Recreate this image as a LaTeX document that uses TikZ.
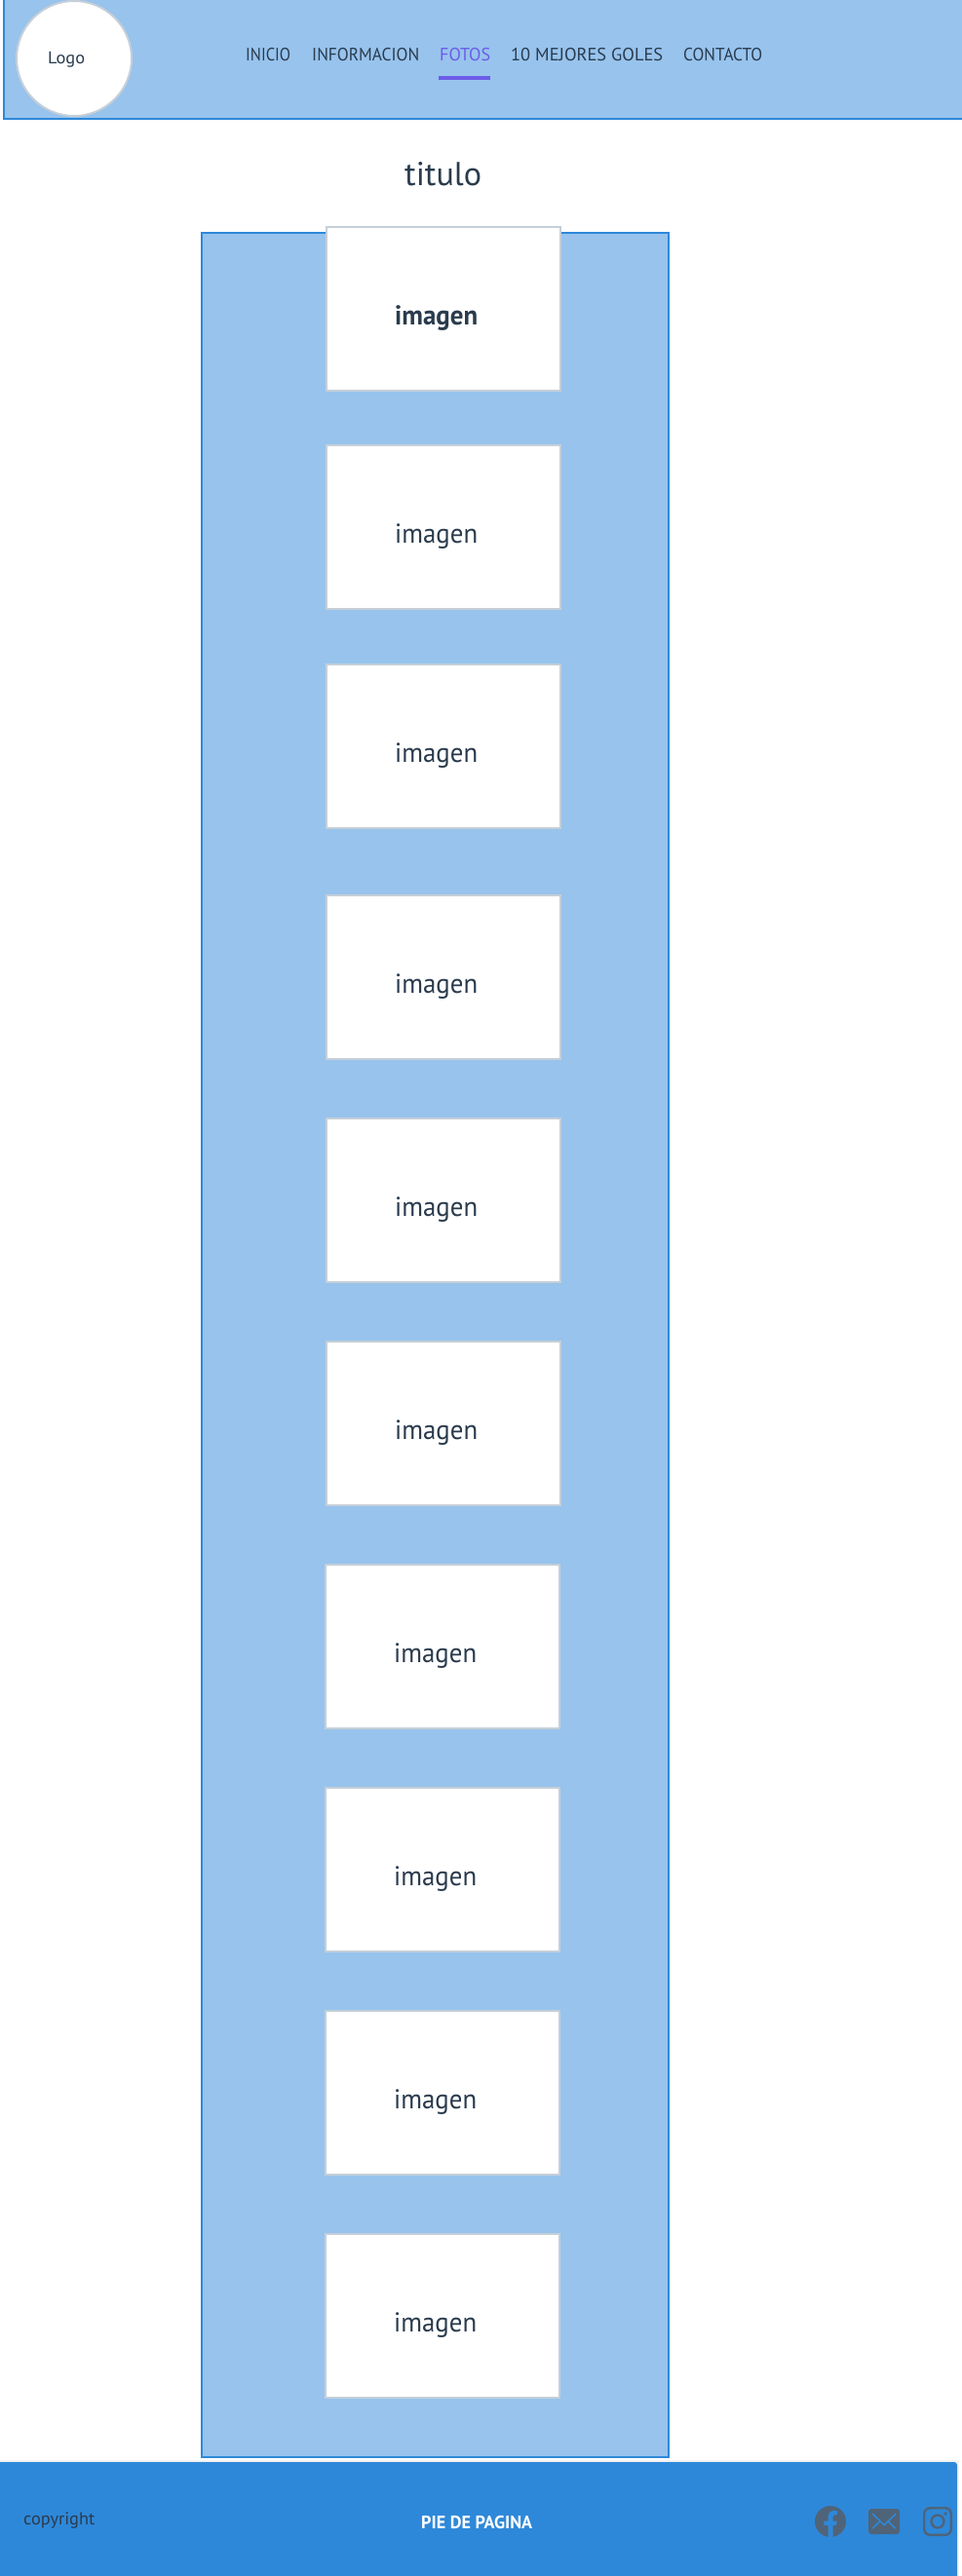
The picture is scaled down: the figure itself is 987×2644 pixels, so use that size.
\documentclass[tikz,border=0pt]{standalone}
\usepackage{fontspec}
\usepackage{graphicx}
\setmainfont{PT Sans}
\definecolor{panel}{HTML}{97C3ED}
\definecolor{edge}{HTML}{2E88D9}
\definecolor{ink}{HTML}{2A3B4D}
\definecolor{imgedge}{HTML}{C5CFD8}
\definecolor{accent}{HTML}{6C5CE7}
\definecolor{icon}{HTML}{4F6478}
\newcommand{\fitw}[3]{\resizebox{#1pt}{\height}{\fontsize{#2pt}{#2pt}\selectfont #3}}
\tikzset{
  panelbox/.style={draw=edge,fill=panel,line width=2pt,rectangle,inner sep=0pt,anchor=north west},
  imagebox/.style={draw=imgedge,fill=white,line width=2pt,rectangle,minimum width=240pt,minimum height=168pt,inner sep=0pt,anchor=north west},
  lbl/.style={inner sep=0pt,anchor=base west,text=ink}
}
\begin{document}
\begin{tikzpicture}[x=1pt,y=-1pt]
\useasboundingbox (0,0) rectangle (987,2644);
\fill[white] (0,0) rectangle (987,2644);
% header
\node[panelbox,minimum width=990pt,minimum height=130pt] (header) at (3,-9) {};
\node[circle,draw=imgedge,fill=white,line width=2pt,minimum size=118pt,inner sep=0pt] (logo) at (76,60) {};
\node[lbl] (logotext) at (49,65.5) {\fitw{38}{17.5}{Logo}};
\node[lbl] (nav1) at (252,63) {\fitw{46}{18.5}{INICIO}};
\node[lbl] (nav2) at (320,63) {\fitw{110}{18.5}{INFORMACION}};
\node[lbl,text=accent] (nav3) at (451,63) {\fitw{52}{18.5}{FOTOS}};
\node[lbl] (nav4) at (524,63) {\fitw{156}{18.5}{10 MEJORES GOLES}};
\node[lbl] (nav5) at (701,63) {\fitw{81}{18.5}{CONTACTO}};
\fill[accent] (450,78) rectangle (503,82);
% title
\node[lbl] (titulo) at (415,190) {\fitw{79}{34}{titulo}};
% main panel
\node[panelbox,minimum width=478.5pt,minimum height=2283pt] (main) at (206,238) {};
% images
\foreach \i/\px/\py/\w in {1/334/232/bf,2/334/456/md,3/334/681/md,4/334/918/md,5/334/1147/md,6/334/1376/md,7/333/1605/md,8/333/1834/md,9/333/2063/md,10/333/2292/md}{
  \node[imagebox] (img\i) at (\px,\py) {};
  \pgfmathsetmacro{\tx}{\px+71}
  \pgfmathsetmacro{\ty}{\py+101}
  \node[lbl,font=\csname\w series\endcsname] (imgtext\i) at (\tx,\ty) {\fitw{85}{28}{imagen}};
}
% footer
\fill[black!5] (0,2525) rectangle (984,2644);
\draw[fill=edge,draw=none,rounded corners=3pt] (-5,2527) rectangle (982,2660);
\node[lbl] (copy) at (24,2591) {\fitw{73}{18}{copyright}};
\node[lbl,text=white,font=\bfseries] (pie) at (432,2595) {\fitw{114}{18.5}{PIE DE PAGINA}};
% facebook
\node[circle,fill=icon,minimum size=32pt,inner sep=0pt] (fb) at (852,2588) {};
\fill[edge] (849.6,2604) -- (849.6,2592) -- (845.3,2592) -- (845.3,2587.5) -- (849.6,2587.5) -- (849.6,2583.5)
  .. controls (849.6,2579) and (852,2577) .. (856,2577) -- (858.8,2577.3) -- (858.8,2581.2) -- (856.8,2581.2)
  .. controls (855,2581.2) and (854.5,2582) .. (854.5,2583.6) -- (854.5,2587.5) -- (858.8,2587.5) -- (858,2592) -- (854.5,2592) -- (854.5,2604) -- cycle;
% mail
\node[rectangle,rounded corners=3pt,fill=icon,minimum width=32pt,minimum height=26pt,inner sep=0pt] (mail) at (907,2588) {};
\draw[edge,line width=1.5pt,line cap=round,line join=round] (895.2,2580) -- (907.2,2591.7) -- (919.2,2580);
\draw[edge,line width=1.5pt,line cap=round] (895.3,2595) -- (902.6,2588);
\draw[edge,line width=1.5pt,line cap=round] (918.5,2595) -- (911.2,2588);
% instagram
\node[rectangle,rounded corners=6pt,draw=icon,line width=2.4pt,minimum width=27.6pt,minimum height=27.6pt,inner sep=0pt] (insta) at (962,2588) {};
\node[circle,draw=icon,line width=2.4pt,minimum size=13pt,inner sep=0pt] (lens) at (insta.center) {};
\fill[icon] (970,2580) circle (1.8pt);
\end{tikzpicture}
\end{document}
